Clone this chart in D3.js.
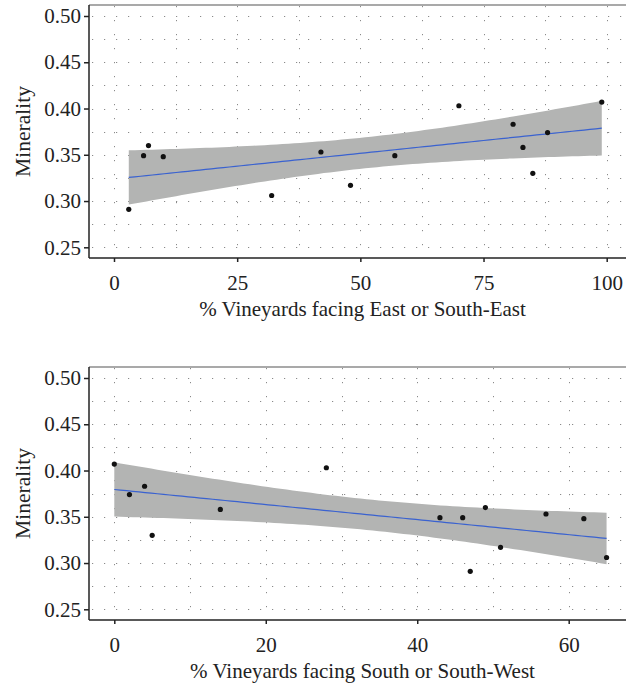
<!DOCTYPE html>
<html>
<head>
<meta charset="utf-8">
<script src="https://cdn.jsdelivr.net/npm/d3@7"></script>
<style>
  body { margin: 0; background: #fff; }
  svg { display: block; }
</style>
</head>
<body>
<div id="chart"></div>
<script>
// Data: one value per site
const minerality = [0.291, 0.349, 0.360, 0.348, 0.306, 0.353, 0.317, 0.349, 0.403, 0.383, 0.358, 0.330, 0.374, 0.407];
const eastPct    = [3, 6, 7, 10, 32, 42, 48, 57, 70, 81, 83, 85, 88, 99];
const southPct   = [47, 46, 49, 62, 65, 57, 51, 43, 28, 4, 14, 5, 2, 0];

const yTicks = [0.25, 0.30, 0.35, 0.40, 0.45, 0.50];
const eastTicks = [0, 25, 50, 75, 100];
const southTicks = [0, 20, 40, 60];

const width = 626;
const height = 688;
const font = '"Liberation Serif", "DejaVu Serif", serif';

const svg = d3.select('#chart').append('svg')
	.attr('width', width)
	.attr('height', height)
	.attr('viewBox', [0, 0, width, height]);

// linear fit with 95% confidence band (like geom_smooth(method = "lm"))
function fitLm(xs, ys) {
	const n = xs.length;
	const mx = d3.mean(xs);
	const my = d3.mean(ys);
	const sxx = d3.sum(xs, (x) => (x - mx) ** 2);
	const sxy = d3.sum(xs, (x, i) => (x - mx) * (ys[i] - my));
	const b = sxy / sxx;
	const a = my - b * mx;
	const rss = d3.sum(xs, (x, i) => (ys[i] - a - b * x) ** 2);
	const s = Math.sqrt(rss / (n - 2));
	const t = 2.178813; // qt(0.975, 12)
	const [lo, hi] = d3.extent(xs);
	return d3.range(0, 81).map((k) => {
		const x = lo + (hi - lo) * k / 80;
		const fit = a + b * x;
		const se = s * Math.sqrt(1 / n + (x - mx) ** 2 / sxx);
		return { x, fit, lo: fit - t * se, hi: fit + t * se };
	});
}

function panel(opt) {
	const { top, bottom, left, right, xs, xTicks, xRange, xDomain, xTitle } = opt;
	const g = svg.append('g');

	const x = d3.scaleLinear().domain(xDomain).range(xRange);
	const y = d3.scaleLinear().domain([0.25, 0.50]).range([bottom - 10.7, top + 11]);

	// dotted grid, major and minor
	const xStep = xTicks[1] - xTicks[0];
	const xGrid = d3.range(xTicks[0] - xStep / 2, x.invert(right) + 0.001, xStep / 2).filter((v) => x(v) > left);
	const yGrid = d3.range(0.225, 0.5251, 0.025).filter((v) => y(v) < bottom && y(v) > top);

	g.append('g')
		.selectAll('line')
		.data(yGrid)
		.join('line')
		.attr('x1', left + 3)
		.attr('x2', right)
		.attr('y1', (d) => Math.round(y(d)) + 0.5)
		.attr('y2', (d) => Math.round(y(d)) + 0.5)
		.attr('stroke', '#8a8a8a')
		.attr('stroke-width', 1)
		.attr('stroke-dasharray', '1.2,10.8');

	g.append('g')
		.selectAll('line')
		.data(xGrid)
		.join('line')
		.attr('x1', (d) => Math.round(x(d)) + 0.5)
		.attr('x2', (d) => Math.round(x(d)) + 0.5)
		.attr('y1', top + 1)
		.attr('y2', bottom)
		.attr('stroke', '#8a8a8a')
		.attr('stroke-width', 1)
		.attr('stroke-dasharray', '1.2,12.8');

	// confidence band and fitted line
	const band = fitLm(xs, minerality);
	g.append('path')
		.datum(band)
		.attr('fill', '#b3b4b3')
		.attr('d', d3.area().x((d) => x(d.x)).y0((d) => y(d.lo)).y1((d) => y(d.hi)));
	g.append('path')
		.datum(band)
		.attr('fill', 'none')
		.attr('stroke', '#3a62d0')
		.attr('stroke-width', 1.2)
		.attr('d', d3.line().x((d) => x(d.x)).y((d) => y(d.fit)));

	// points
	g.append('g')
		.selectAll('circle')
		.data(xs)
		.join('circle')
		.attr('cx', (d) => x(d))
		.attr('cy', (d, i) => y(minerality[i]))
		.attr('r', 2.6)
		.attr('fill', '#111');

	// panel frame (top) and axes
	g.append('line')
		.attr('x1', left).attr('x2', right)
		.attr('y1', top).attr('y2', top)
		.attr('stroke', '#555').attr('stroke-width', 1.2);

	const yAxis = g.append('g')
		.attr('transform', `translate(${left},0)`)
		.call(d3.axisLeft(y).tickValues(yTicks).tickFormat(d3.format('.2f')).tickSize(5).tickSizeOuter(0).tickPadding(3));
	yAxis.attr('font-family', font);
	yAxis.select('.domain').attr('stroke', '#222').attr('stroke-width', 1.5)
		.attr('d', `M0,${top}V${bottom}`);
	yAxis.selectAll('.tick line').attr('stroke', '#222').attr('stroke-width', 1.5);
	yAxis.selectAll('.tick text').attr('font-size', 21).attr('fill', '#222');

	const xAxis = g.append('g')
		.attr('transform', `translate(0,${bottom})`)
		.call(d3.axisBottom(x).tickValues(xTicks).tickSize(4).tickSizeOuter(0).tickPadding(13));
	xAxis.attr('font-family', font);
	xAxis.select('.domain').attr('stroke', '#222').attr('stroke-width', 1.5)
		.attr('d', `M${left},0H${right}`);
	xAxis.selectAll('.tick line').attr('stroke', '#222').attr('stroke-width', 1.5);
	xAxis.selectAll('.tick text').attr('font-size', 21).attr('fill', '#222');

	// titles
	g.append('text')
		.attr('x', (left + right) / 2 + 3)
		.attr('y', bottom + 58)
		.attr('text-anchor', 'middle')
		.attr('font-family', font)
		.attr('font-size', 21)
		.attr('fill', '#222')
		.text(xTitle);

	g.append('text')
		.attr('transform', `translate(30,${(top + bottom) / 2}) rotate(-90)`)
		.attr('text-anchor', 'middle')
		.attr('font-family', font)
		.attr('font-size', 21.5)
		.attr('fill', '#222')
		.text('Minerality');
}

panel({
	top: 5, bottom: 258, left: 89, right: 630,
	xs: eastPct, xTicks: eastTicks, xDomain: [0, 100], xRange: [114, 606.7],
	xTitle: '% Vineyards facing East or South-East',
});

panel({
	top: 367, bottom: 620, left: 89, right: 630,
	xs: southPct, xTicks: southTicks, xDomain: [0, 60], xRange: [114.3, 568.7],
	xTitle: '% Vineyards facing South or South-West',
});
</script>
</body>
</html>
